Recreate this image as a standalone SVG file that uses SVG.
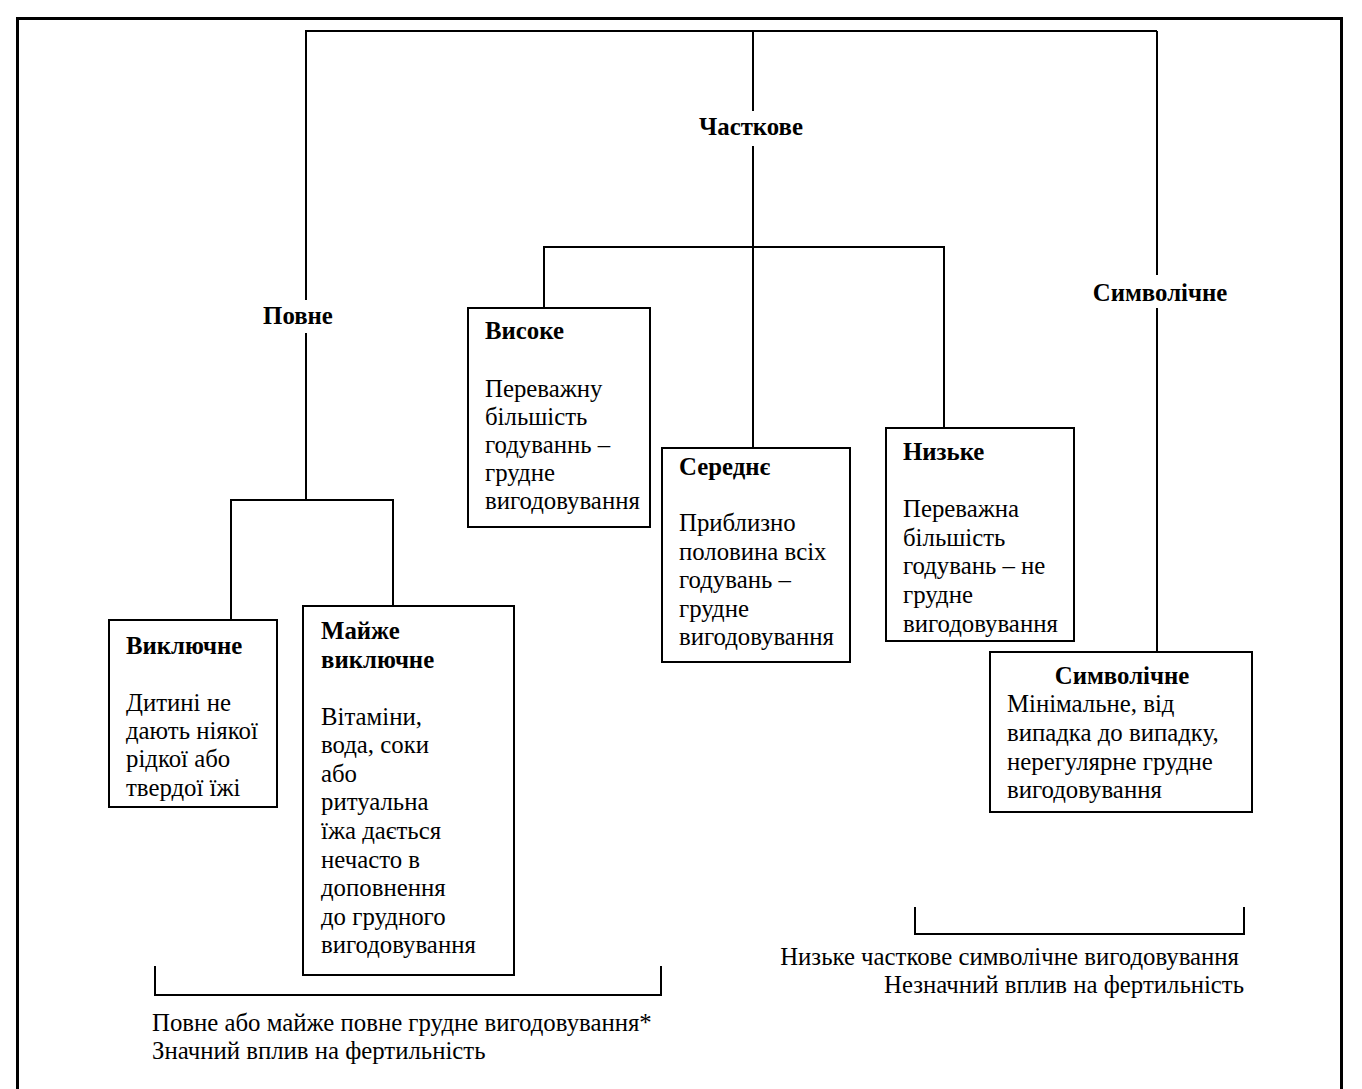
<svg xmlns="http://www.w3.org/2000/svg" width="1362" height="1089" viewBox="0 0 1362 1089">
<style>
text{font-family:"Liberation Serif","Times New Roman",serif;font-size:24.8px;fill:#000}
.b{font-weight:bold}
.box{fill:#fff;stroke:#000;stroke-width:2}
.ln{fill:none;stroke:#000;stroke-width:2}
</style>
<rect width="1362" height="1089" fill="#fff"/>
<path d="M17.5,1089 V18.5 H1341.5 V1089" fill="none" stroke="#000" stroke-width="3"/>
<g id="connectors" class="ln">
<path d="M306,300 V31 H1157"/>
<path d="M306,333 V500"/>
<path d="M231,620 V500 H393 V606"/>
<path d="M753,31 V111"/>
<path d="M753,146 V448"/>
<path d="M544,308 V247 H944 V428"/>
<path d="M1157,31 V275"/>
<path d="M1157,308 V652"/>
<path d="M155,966 V995 H661 V966"/>
<path d="M915,907 V934 H1244 V907"/>
</g>
<g id="label-povne"><text class="b" x="298" y="324" text-anchor="middle">Повне</text></g>
<g id="label-chastkove"><text class="b" x="751" y="135" text-anchor="middle">Часткове</text></g>
<g id="label-symvolichne"><text class="b" x="1160" y="301" text-anchor="middle">Символічне</text></g>
<g id="node-vykliuchne">
<rect class="box" x="109" y="620" width="168" height="187"/>
<text class="b" x="126" y="654">Виключне</text>
<text x="126" y="711">Дитині не</text>
<text x="126" y="739">дають ніякої</text>
<text x="126" y="767">рідкої або</text>
<text x="126" y="796">твердої їжі</text>
</g>
<g id="node-maizhe">
<rect class="box" x="303" y="606" width="211" height="369"/>
<text class="b" x="321" y="639">Майже</text>
<text class="b" x="321" y="668">виключне</text>
<text x="321" y="725">Вітаміни,</text>
<text x="321" y="753">вода, соки</text>
<text x="321" y="782">або</text>
<text x="321" y="810">ритуальна</text>
<text x="321" y="839">їжа дається</text>
<text x="321" y="868">нечасто в</text>
<text x="321" y="896">доповнення</text>
<text x="321" y="925">до грудного</text>
<text x="321" y="953">вигодовування</text>
</g>
<g id="node-vysoke">
<rect class="box" x="468" y="308" width="182" height="219"/>
<text class="b" x="485" y="339">Високе</text>
<text x="485" y="397">Переважну</text>
<text x="485" y="425">більшість</text>
<text x="485" y="453">годуваннь –</text>
<text x="485" y="481">грудне</text>
<text x="485" y="509">вигодовування</text>
</g>
<g id="node-serednie">
<rect class="box" x="662" y="448" width="188" height="214"/>
<text class="b" x="679" y="475">Середнє</text>
<text x="679" y="531">Приблизно</text>
<text x="679" y="560">половина всіх</text>
<text x="679" y="588">годувань –</text>
<text x="679" y="617">грудне</text>
<text x="679" y="645">вигодовування</text>
</g>
<g id="node-nyzke">
<rect class="box" x="886" y="428" width="188" height="213"/>
<text class="b" x="903" y="460">Низьке</text>
<text x="903" y="517">Переважна</text>
<text x="903" y="546">більшість</text>
<text x="903" y="574">годувань – не</text>
<text x="903" y="603">грудне</text>
<text x="903" y="632">вигодовування</text>
</g>
<g id="node-symvolichne">
<rect class="box" x="990" y="652" width="262" height="160"/>
<text class="b" x="1122" y="684" text-anchor="middle">Символічне</text>
<text x="1007" y="712">Мінімальне, від</text>
<text x="1007" y="741">випадка до випадку,</text>
<text x="1007" y="770">нерегулярне грудне</text>
<text x="1007" y="798">вигодовування</text>
</g>
<g id="caption-left">
<text x="152" y="1031">Повне або майже повне грудне вигодовування*</text>
<text x="152" y="1059">Значний вплив на фертильність</text>
</g>
<g id="caption-right">
<text x="1239" y="965" text-anchor="end">Низьке часткове символічне вигодовування</text>
<text x="1244" y="993" text-anchor="end">Незначний вплив на фертильність</text>
</g>
</svg>
